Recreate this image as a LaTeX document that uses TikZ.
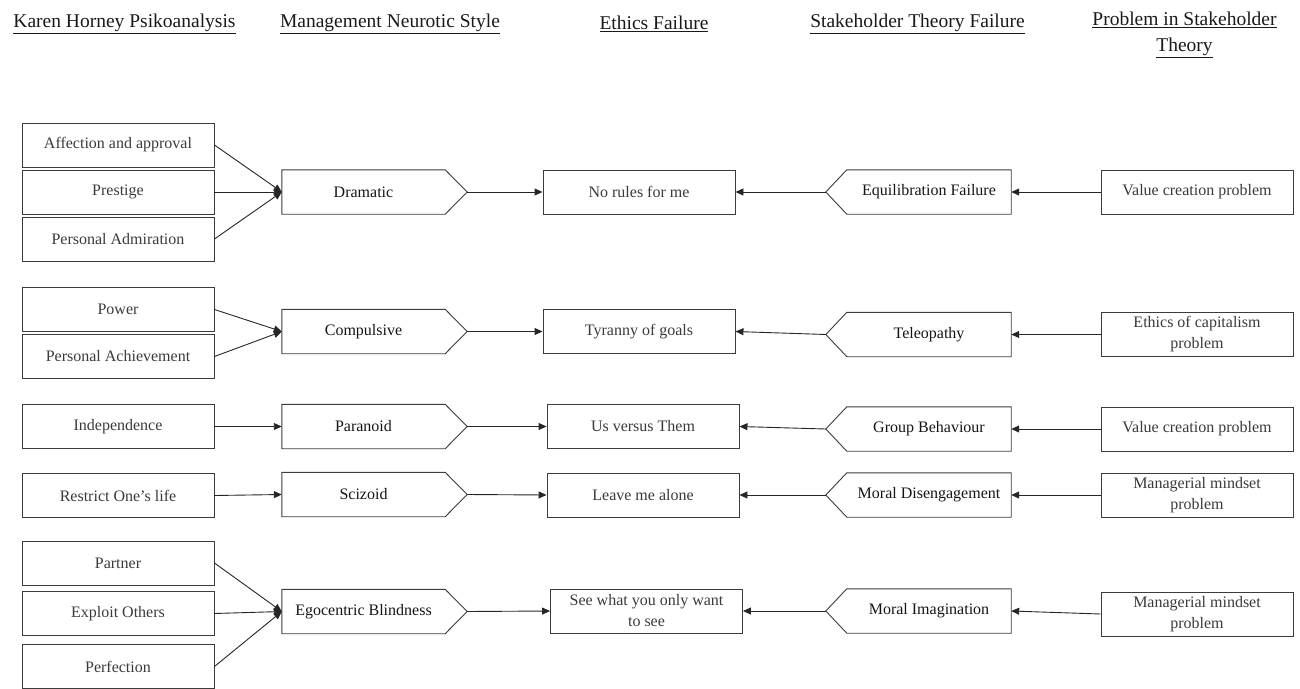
\documentclass[tikz,border=0pt]{standalone}
\usepackage{fontspec}
\setmainfont{Liberation Serif}
\usetikzlibrary{arrows.meta,calc}
\newcommand\boxfont{\fontsize{16}{21}\selectfont}
\newcommand\headfont{\fontsize{19.5}{25}\selectfont}
\definecolor{txt}{HTML}{3A3A3A}
\definecolor{dtxt}{HTML}{151515}
\definecolor{edge}{HTML}{3C3C3C}
\tikzset{
  rbox/.style={draw=edge, line width=0.9pt, minimum width=192pt, minimum height=44pt,
    inner sep=2pt, align=center, text=txt, font=\boxfont},
  pbody/.style={minimum width=163pt, minimum height=44pt, inner sep=2pt,
    align=center, text=dtxt, font=\boxfont},
  outl/.style={draw=edge, line width=0.9pt, line join=miter},
  conn/.style={draw=black!85, line width=0.9pt, -{Triangle[length=8pt,width=7pt]}},
  head/.style={font=\headfont, text=black!90, align=center, inner sep=0pt},
}
\begin{document}
\begin{tikzpicture}[x=1pt,y=-1pt]
\useasboundingbox (0,0) rectangle (1300,688);
% headers
\node[head] (h1) at (124.5,24) {\underline{Karen Horney Psikoanalysis}};
\node[head] (h2) at (390,24) {\underline{Management Neurotic Style}};
\node[head] (h3) at (654,24) {\underline{Ethics Failure}};
\node[head] (h4) at (917.5,24) {\underline{Stakeholder Theory Failure}};
\node[head, anchor=north] (h5) at (1184.5,12) {\underline{Problem in Stakeholder}\\[1pt]\underline{Theory}};

% ---------- column A ----------
\node[rbox] (a11) at (118,145) {Affection and approval};
\node[rbox] (a12) at (118,192) {Prestige};
\node[rbox] (a13) at (118,239) {Personal Admiration};
\node[rbox] (a21) at (118,309.5) {Power};
\node[rbox] (a22) at (118,356.5) {Personal Achievement};
\node[rbox] (a3) at (118,426.5) {Independence};
\node[rbox] (a4) at (118,495.5) {Restrict One's life};
\node[rbox] (a51) at (118,563) {Partner};
\node[rbox] (a52) at (118,613.5) {Exploit Others};
\node[rbox] (a53) at (118,666.5) {Perfection};

% ---------- column B (pointing right) ----------
\foreach \n/\y/\t in {b1/192/Dramatic, b2/331.5/Compulsive, b3/426.5/Paranoid, b4/494.5/Scizoid, b5/611.5/Egocentric Blindness}{
  \node[pbody] (\n) at (363.5,\y) {\t};
  \coordinate (\n t) at ($(\n.east)+(22,0)$);
  \draw[outl] (\n.north west) -- (\n.north east) -- (\n t) -- (\n.south east) -- (\n.south west) -- cycle;
}

% ---------- column C ----------
\node[rbox] (c1) at (639,192) {No rules for me};
\node[rbox] (c2) at (639,331.5) {Tyranny of goals};
\node[rbox] (c3) at (643,426.5) {Us versus Them};
\node[rbox] (c4) at (643,495) {Leave me alone};
\node[rbox] (c5) at (646.5,611) {See what you only want\\to see};

% ---------- column D (pointing left) ----------
\foreach \n/\y/\t in {d1/192/Equilibration Failure, d2/334.5/Teleopathy, d3/429/Group Behaviour, d4/495/Moral Disengagement, d5/611/Moral Imagination}{
  \node[pbody, minimum width=164pt] (\n) at (929,\y) {\t};
  \coordinate (\n t) at ($(\n.west)+(-21,0)$);
  \draw[outl] (\n.north east) -- (\n.north west) -- (\n t) -- (\n.south west) -- (\n.south east) -- cycle;
}

% ---------- column E ----------
\node[rbox] (e1) at (1197,192) {Value creation problem};
\node[rbox] (e2) at (1197,334.5) {Ethics of capitalism\\problem};
\node[rbox] (e3) at (1197,429) {Value creation problem};
\node[rbox] (e4) at (1197,495) {Managerial mindset\\problem};
\node[rbox] (e5) at (1197,614) {Managerial mindset\\problem};

% ---------- connectors ----------
\foreach \s in {a11,a12,a13}{\draw[conn] (\s.east) -- (b1.west);}
\foreach \s in {a21,a22}{\draw[conn] (\s.east) -- (b2.west);}
\draw[conn] (a3.east) -- (b3.west);
\draw[conn] (a4.east) -- (b4.west);
\foreach \s in {a51,a52,a53}{\draw[conn] (\s.east) -- (b5.west);}
\foreach \i in {1,...,5}{
  \draw[conn] (b\i t) -- (c\i.west);
  \draw[conn] (d\i t) -- (c\i.east);
  \draw[conn] (e\i.west) -- (d\i.east);
}
\end{tikzpicture}
\end{document}
